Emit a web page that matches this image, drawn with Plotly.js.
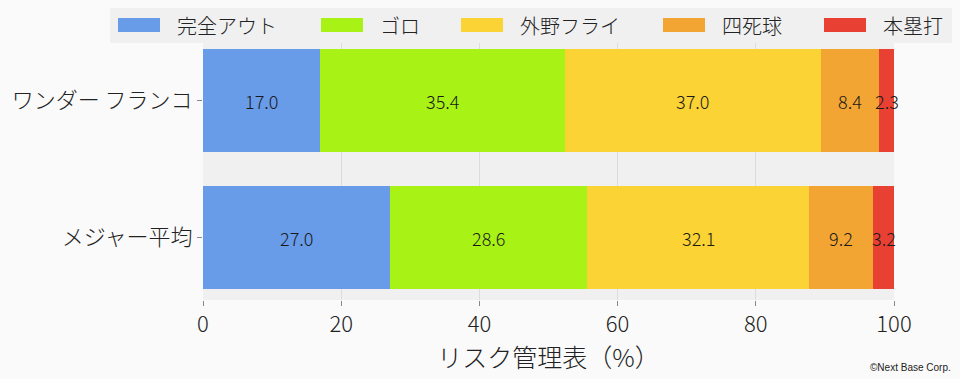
<!DOCTYPE html>
<html>
<head>
<meta charset="utf-8">
<script src="https://cdn.plot.ly/plotly-3.0.1.min.js"></script>
<style>html,body{margin:0;padding:0;background:#fafafa;}#chart{width:960px;height:379px;}</style>
</head>
<body>
<div id="chart"></div>
<script>
const categories = ["ワンダー フランコ", "メジャー平均"];
const seriesNames = ["完全アウト", "ゴロ", "外野フライ", "四死球", "本塁打"];
const kanzenOut = [17.0, 27.0];
const goro = [35.4, 28.6];
const gaiyaFly = [37.0, 32.1];
const shishikyu = [8.4, 9.2];
const honruida = [2.3, 3.2];
const seriesValues = [kanzenOut, goro, gaiyaFly, shishikyu, honruida];
const colors = ["#689BE8", "#A8F216", "#FBD334", "#F2A533", "#E84133"];
const xTickVals = [0, 20, 40, 60, 80, 100];
const xTitle = "リスク管理表（%）";
const credit = "©Next Base Corp.";

const FONT = "Noto Sans CJK JP, Noto Sans, sans-serif";
const WT = 300;
const W = 960, H = 379;
const M = {l: 203, r: 66, t: 43, b: 79};
const pw = W - M.l - M.r, ph = H - M.t - M.b;
const px2x = p => (p - M.l) / pw;
const py2y = p => (H - M.b - p) / ph;

const traces = seriesValues.map((vals, i) => ({
  type: "bar",
  orientation: "h",
  name: seriesNames[i],
  y: categories,
  x: vals,
  marker: {color: colors[i], line: {width: 0}},
  hoverinfo: "skip",
  showlegend: false
}));

const shapes = [];
const annotations = [];

// bar value labels, centred on each segment (data coordinates)
categories.forEach((cat, ci) => {
  let cum = 0;
  seriesValues.forEach((vals) => {
    const v = vals[ci];
    annotations.push({xref: "x", yref: "y", x: cum + v / 2, y: cat,
      text: v.toFixed(1), showarrow: false, xanchor: "center", yanchor: "middle",
      font: {family: FONT, size: 18, weight: WT, color: "#1a1a1a"}});
    cum += v;
  });
});

// custom legend
shapes.push({type: "rect", xref: "paper", yref: "paper",
  x0: px2x(110), x1: px2x(952), y0: py2y(43), y1: py2y(8),
  fillcolor: "#f0f0f0", line: {width: 0}, layer: "below"});
const swatchX = [118, 321, 461, 663, 824];
seriesNames.forEach((n, i) => {
  shapes.push({type: "rect", xref: "paper", yref: "paper",
    x0: px2x(swatchX[i]), x1: px2x(swatchX[i] + 42),
    y0: py2y(32), y1: py2y(18),
    fillcolor: colors[i], line: {width: 0}});
  annotations.push({xref: "paper", yref: "paper",
    x: px2x(swatchX[i] + 57), y: py2y(25), xanchor: "left", yanchor: "middle",
    text: n, showarrow: false, font: {family: FONT, size: 20, weight: WT, color: "#222222"}});
});
annotations.push({xref: "paper", yref: "paper", x: px2x(953), y: py2y(367),
  xanchor: "right", yanchor: "middle", text: credit, showarrow: false,
  font: {family: "Liberation Sans, Arial, sans-serif", size: 10, color: "#222222"}});

const layout = {
  width: W, height: H,
  margin: M,
  barmode: "stack",
  bargap: 0.25,
  paper_bgcolor: "#fafafa",
  plot_bgcolor: "#f0f0f0",
  showlegend: false,
  font: {family: FONT, color: "#222222"},
  xaxis: {
    range: [0, 100], tickvals: xTickVals, ticktext: xTickVals.map(String),
    showgrid: true, gridcolor: "#dcdcdc", gridwidth: 1,
    zeroline: false, showline: false,
    ticks: "outside", ticklen: 5, tickcolor: "#888888",
    tickfont: {family: FONT, size: 22, weight: WT, color: "#222222"},
    title: {text: xTitle, font: {family: FONT, size: 25, weight: WT, color: "#222222"}, standoff: 9},
    fixedrange: true
  },
  yaxis: {
    range: [1.456, -0.42],
    ticks: "outside", ticklen: 5, tickcolor: "#888888",
    showgrid: false, zeroline: false, showline: false,
    tickfont: {family: FONT, size: 22, weight: WT, color: "#222222"},
    fixedrange: true
  },
  shapes: shapes,
  annotations: annotations
};

Plotly.newPlot("chart", traces, layout, {displayModeBar: false, staticPlot: true});
</script>
</body>
</html>
